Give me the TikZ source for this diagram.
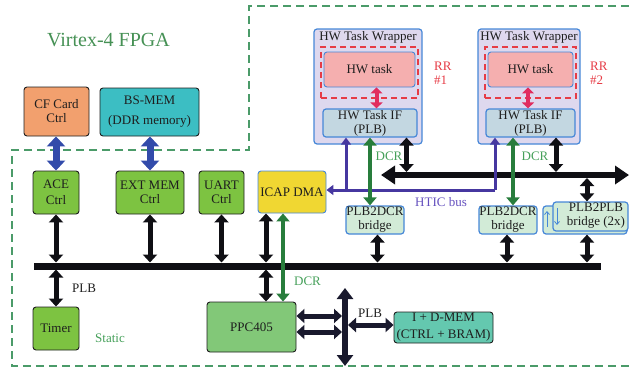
\documentclass[tikz,border=0pt]{standalone}
\usepackage{fontspec}
\setmainfont{Liberation Serif}
\usetikzlibrary{arrows.meta}

\definecolor{ink}{RGB}{30,30,30}
\definecolor{fpgagreen}{RGB}{75,155,105}
\definecolor{titlegreen}{RGB}{70,145,85}
\definecolor{cforange}{RGB}{242,160,110}
\definecolor{bsteal}{RGB}{60,190,195}
\definecolor{ctrlgreen}{RGB}{125,195,65}
\definecolor{icapyellow}{RGB}{240,215,50}
\definecolor{ppcgreen}{RGB}{130,200,120}
\definecolor{memteal}{RGB}{100,200,175}
\definecolor{bridgefill}{RGB}{210,235,215}
\definecolor{edgeblue}{RGB}{70,135,215}
\definecolor{wrapfill}{RGB}{222,216,238}
\definecolor{taskpink}{RGB}{245,175,175}
\definecolor{iffill}{RGB}{195,215,225}
\definecolor{rrred}{RGB}{230,60,70}
\definecolor{linkpink}{RGB}{225,45,95}
\definecolor{htic}{RGB}{70,55,160}
\definecolor{htictext}{RGB}{100,80,190}
\definecolor{dcrgreen}{RGB}{40,125,60}
\definecolor{dcrtext}{RGB}{70,160,90}
\definecolor{memblue}{RGB}{50,75,170}
\definecolor{busblack}{RGB}{15,15,20}
\definecolor{ppcbus}{RGB}{25,25,45}

\begin{document}
\begin{tikzpicture}[x=1pt,y=-1pt,
  font=\fontsize{13}{14}\selectfont,
  box/.style={draw=ink, line width=0.9pt, rounded corners=3pt, inner sep=0pt,
    align=center, text=ink},
  ctrl/.style={box, fill=ctrlgreen},
  bluebox/.style={box, draw=edgeblue, line width=1.2pt},
  bridge/.style={bluebox, fill=bridgefill},
  lbl/.style={inner sep=0pt, align=center, text=ink},
  fpga/.style={draw=fpgagreen, line width=1.5pt, dash pattern=on 8pt off 5pt},
  rrbox/.style={draw=rrred, line width=1.2pt, dash pattern=on 6pt off 4pt},
  bk/.style={draw=busblack, line width=5pt,
    {Triangle[width=14pt,length=8pt]}-{Triangle[width=14pt,length=8pt]}},
  pk/.style={draw=ppcbus, line width=5pt,
    {Triangle[width=14pt,length=8pt]}-{Triangle[width=14pt,length=8pt]}},
  bl/.style={draw=memblue, line width=7pt,
    {Triangle[width=18pt,length=10pt]}-{Triangle[width=18pt,length=10pt]}},
  dcr/.style={draw=dcrgreen, line width=4.5pt,
    {Triangle[width=13pt,length=8pt]}-{Triangle[width=13pt,length=8pt]}},
  link/.style={draw=linkpink, line width=4pt,
    {Triangle[width=12pt,length=6pt]}-{Triangle[width=12pt,length=6pt]}},
  hticline/.style={draw=htic, line width=3pt},
  thinarrow/.style={draw=edgeblue, line width=0.8pt, -{Straight Barb[width=5pt,length=3pt]}}
]
\useasboundingbox (0,0) rectangle (629,372);

% FPGA outline: the static region plus the reconfigurable area above it
\draw[fpga] (629,6) -- (249,6) -- (249,150) -- (12,150) -- (12,366) -- (629,366);
\node[text=titlegreen, font=\fontsize{20}{22}\selectfont] (title) at (108.5,40) {Virtex-4 FPGA};
\node[text=dcrtext] (static) at (110,338) {Static};

% off-chip controllers and memory
\node[box, fill=cforange, minimum width=65pt, minimum height=49pt] (cf) at (56.5,111.5) {CF Card\\Ctrl};
\node[box, fill=bsteal, minimum width=99pt, minimum height=48pt] (bsmem) at (149.5,112) {BS-MEM\\[6pt](DDR memory)};

% static peripherals
\node[ctrl, minimum width=46pt, minimum height=43pt] (ace) at (56,192.5) {ACE\\[2pt]Ctrl};
\node[ctrl, minimum width=68pt, minimum height=43pt] (extmem) at (150,192.5) {EXT MEM\\Ctrl};
\node[ctrl, minimum width=45pt, minimum height=43pt] (uart) at (221.5,192.5) {UART\\Ctrl};
\node[box, draw=edgeblue, fill=icapyellow, minimum width=68pt, minimum height=42pt] (icap) at (292,192) {ICAP DMA};
\node[ctrl, minimum width=46pt, minimum height=43pt] (timer) at (56,328.5) {Timer};
\node[box, fill=ppcgreen, minimum width=89pt, minimum height=50pt] (ppc) at (251.5,327) {PPC405};
\node[box, fill=memteal, minimum width=99pt, minimum height=31pt] (idmem) at (443.5,327.5) {I + D-MEM\\[3pt](CTRL + BRAM)};

% bridges
\node[bridge, minimum width=58pt, minimum height=28pt] (brA) at (375,220) {PLB2DCR\\bridge};
\node[bridge, minimum width=58pt, minimum height=28pt] (brB) at (508,220) {PLB2DCR\\bridge};
\node[bridge, minimum width=84pt, minimum height=28pt] (pbBack) at (585,220) {};
\node[bridge, minimum width=75pt, minimum height=29pt] (pbFront) at (590.5,216.5) {};
\node[lbl] (pbText) at (596,215.5) {PLB2PLB\\bridge (2x)};
\coordinate (upA) at (547,227);
\coordinate (upB) at (547,211);
\coordinate (dnA) at (557,208);
\coordinate (dnB) at (557,225);
\draw[thinarrow] (upA) -- (upB);
\draw[thinarrow] (dnA) -- (dnB);

% reconfigurable regions: task wrappers
\node[bluebox, fill=wrapfill, minimum width=108pt, minimum height=115pt] (wrapA) at (368,86.5) {};
\node[bluebox, fill=wrapfill, minimum width=102pt, minimum height=115pt] (wrapB) at (529,86.5) {};
\node[lbl] (wrapAlbl) at (368,37) {HW Task Wrapper};
\node[lbl] (wrapBlbl) at (529,37) {HW Task Wrapper};
\node[rrbox, minimum width=97pt, minimum height=51pt, inner sep=0pt] (rrA) at (369.5,72.5) {};
\node[rrbox, minimum width=91pt, minimum height=51pt, inner sep=0pt] (rrB) at (530.5,72.5) {};
\node[box, draw=edgeblue, fill=taskpink, minimum width=91pt, minimum height=35pt] (taskA) at (369.5,69.5) {HW task};
\node[box, draw=edgeblue, fill=taskpink, minimum width=85pt, minimum height=35pt] (taskB) at (530.5,69.5) {HW task};
\node[bluebox, fill=iffill, minimum width=94pt, minimum height=28pt] (ifA) at (370,123) {HW Task IF\\(PLB)};
\node[bluebox, fill=iffill, minimum width=89pt, minimum height=28pt] (ifB) at (530.5,123) {HW Task IF\\(PLB)};
\node[text=rrred, align=left, anchor=west, inner sep=0pt] (rrAlbl) at (434,73.5) {RR\\\#1};
\node[text=rrred, align=left, anchor=west, inner sep=0pt] (rrBlbl) at (590,73.5) {RR\\\#2};

% task <-> interface links
\coordinate (lkA) at (376.5,0);
\coordinate (lkB) at (528,0);
\draw[link] (taskA.south -| lkA) -- (ifA.north -| lkA);
\draw[link] (taskB.south -| lkB) -- (ifB.north -| lkB);

% buses
\coordinate (busL) at (34,266);
\coordinate (busR) at (601,266);
\coordinate (busTop) at (0,262.5);
\coordinate (busBot) at (0,269.5);
\draw[busblack, line width=7pt] (busL) -- (busR);

\coordinate (ubL) at (381,175);
\coordinate (ubR) at (629,175);
\coordinate (ubTop) at (0,172);
\coordinate (ubBot) at (0,178);
\draw[busblack, line width=6.5pt,
  {Triangle[width=18pt,length=14pt]}-{Triangle[width=18pt,length=14pt]}] (ubL) -- (ubR);

% HTIC bus
\coordinate (htCorner) at (495,190);
\coordinate (htTap) at (346,190);
\draw[hticline, -{Triangle[width=10pt,length=7pt]}] (htCorner) -- (icap.east |- htCorner);
\draw[hticline, -{Triangle[width=10pt,length=7pt]}] (htCorner) -- (ifB.south -| htCorner);
\draw[hticline, -{Triangle[width=10pt,length=7pt]}] (htTap) -- (ifA.south -| htTap);
\node[text=htictext] (hticlbl) at (441,202) {HTIC bus};

% external memory links
\draw[bl] (cf.south -| ace) -- (ace.north);
\draw[bl] (bsmem.south -| extmem) -- (extmem.north);

% PLB attachments
\coordinate (lnIcap) at (266,0);
\coordinate (lnDcr) at (283,0);
\coordinate (lnBrA) at (377.5,0);
\coordinate (lnBrB) at (507,0);
\coordinate (lnPb) at (587,0);
\coordinate (lnIfA) at (406.5,0);
\coordinate (lnIfB) at (556,0);
\coordinate (lnDcrA) at (370,0);
\coordinate (lnDcrB) at (513,0);
\draw[bk] (ace.south) -- (ace.south |- busTop);
\draw[bk] (extmem.south) -- (extmem.south |- busTop);
\draw[bk] (uart.south) -- (uart.south |- busTop);
\draw[bk] (icap.south -| lnIcap) -- (lnIcap |- busTop);
\draw[bk] (timer.north |- busBot) -- (timer.north);
\draw[bk] (lnIcap |- busBot) -- (ppc.north -| lnIcap);
\draw[bk] (brA.south -| lnBrA) -- (lnBrA |- busTop);
\draw[bk] (brB.south -| lnBrB) -- (lnBrB |- busTop);
\draw[bk] (pbBack.south -| lnPb) -- (lnPb |- busTop);
\draw[bk] (lnPb |- ubBot) -- (pbFront.north -| lnPb);
\draw[bk] (ifA.south -| lnIfA) -- (lnIfA |- ubTop);
\draw[bk] (ifB.south -| lnIfB) -- (lnIfB |- ubTop);
\node[text=ink] (plbL) at (84,288) {PLB};

% DCR links
\draw[dcr] (icap.south -| lnDcr) -- (ppc.north -| lnDcr);
\draw[dcr] (ifA.south -| lnDcrA) -- (brA.north -| lnDcrA);
\draw[dcr] (ifB.south -| lnDcrB) -- (brB.north -| lnDcrB);
\node[text=dcrtext] (dcrP) at (307.5,281) {DCR};
\node[text=dcrtext] (dcrA) at (389,156) {DCR};
\node[text=dcrtext] (dcrB) at (535,156) {DCR};

% processor local bus
\coordinate (vbT) at (345,288);
\coordinate (vbB) at (345,366);
\coordinate (vbEdge) at (342,0);
\coordinate (vbEdgeR) at (348,0);
\draw[ppcbus, line width=5.5pt,
  {Triangle[width=16pt,length=11pt]}-{Triangle[width=16pt,length=11pt]}] (vbT) -- (vbB);
\coordinate (rowA) at (0,316);
\coordinate (rowB) at (0,332);
\coordinate (rowM) at (0,325);
\draw[pk] (ppc.east |- rowA) -- (vbEdge |- rowA);
\draw[pk] (ppc.east |- rowB) -- (vbEdge |- rowB);
\draw[pk] (vbEdgeR |- rowM) -- (idmem.west |- rowM);
\node[text=ink] (plbR) at (370,313) {PLB};
\end{tikzpicture}
\end{document}
